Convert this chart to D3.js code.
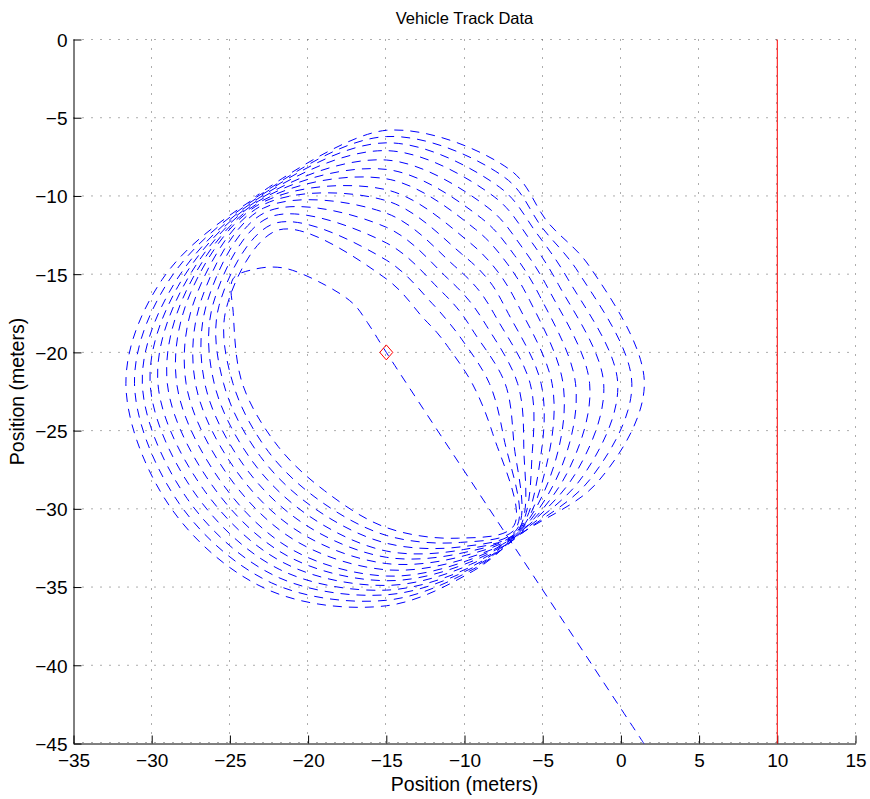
<!DOCTYPE html>
<html><head><meta charset="utf-8">
<script src="https://cdn.jsdelivr.net/npm/d3@7"></script>
<style>
body{margin:0;background:#fff}
svg{display:block}
text{font-family:"Liberation Sans",Arial,Helvetica,sans-serif;fill:#000}
</style>
</head><body>
<svg id="chart" width="870" height="799"></svg>
<script>
// ---- data ----
const xTicks = [-35,-30,-25,-20,-15,-10,-5,0,5,10,15];
const yTicks = [0,-5,-10,-15,-20,-25,-30,-35,-40,-45];
const titleText = "Vehicle Track Data";
const xLabel = "Position (meters)";
const yLabel = "Position (meters)";
// entry leg of the track
const startLeg = [[1.47,-45],[-6.77,-32.5],[-15.0,-20.0],[-16.2,-18.1],[-17.1,-16.9],
  [-18.9,-15.7],[-21.6,-14.6],[-23.5,-14.7],[-24.8,-15.3]];
// loops: radius read along fixed rays around a reference point
const loopCenter = [-15,-22];
const rayAngles = [155,180,210,240,270,295,312,335,360,390,405,420,450,485];
const loopRadii = [
  [10.8, 9.2, 8.0, 7.9, 9.2,10.9,12.2, 7.5, 5.5, 4.6, 4.6, 4.8, 6.7,12.0],
  [11.3, 9.8, 8.7, 8.6, 9.7,11.2,12.4, 8.3, 6.6, 5.6, 5.6, 5.9, 7.9,12.5],
  [11.8,10.4, 9.3, 9.2,10.2,11.5,12.5, 9.0, 7.6, 6.5, 6.6, 6.9, 9.0,13.0],
  [12.2,11.0, 9.9, 9.8,10.7,11.7,12.6, 9.7, 8.4, 7.4, 7.5, 7.8,10.0,13.4],
  [12.6,11.6,10.5,10.4,11.1,11.9,12.6,10.3, 9.2, 8.2, 8.4, 8.7,10.9,13.7],
  [13.0,12.2,11.1,11.0,11.5,12.1,12.65,10.9,9.9, 9.0, 9.3, 9.6,11.7,13.9],
  [13.4,12.8,11.7,11.6,11.9,12.3,12.7,11.4,10.6, 9.8,10.1,10.5,12.4,14.05],
  [13.8,13.4,12.3,12.2,12.3,12.45,12.7,11.9,11.3,10.6,10.9,11.4,13.1,14.15],
  [14.1,14.0,12.9,12.7,12.6,12.6,12.75,12.4,12.1,11.3,11.6,12.2,13.7,14.25],
  [14.4,14.6,13.5,13.2,12.9,12.75,12.8,12.9,13.0,12.0,12.3,13.0,14.3,14.32],
  [14.7,15.1,14.1,13.7,13.2,12.9,12.8,13.4,13.9,12.7,13.0,13.8,14.9,14.4],
  [15.0,15.6,14.7,14.2,13.5,13.0,12.85,13.9,14.8,13.4,13.6,14.5,15.4,14.47],
  [15.4,16.1,15.3,14.7,13.85,13.1,12.9,14.4,15.7,14.2,14.1,15.2,15.8,14.53],
  [15.8,16.65,15.9,15.2,14.2,13.2,12.9,14.9,16.5,15.0,14.6,15.8,16.2,14.6]
];
const markerPoint = [-15,-20];
const boundaryX = 10;

// ---- layout ----
const L = 73.5, R = 855.5, T = 39.5, B = 743.5;
const svg = d3.select("#chart");
const x = d3.scaleLinear().domain([-35,15]).range([L,R]);
const y = d3.scaleLinear().domain([-45,0]).range([B,T]);
const rPx = d3.scaleLinear().domain([0,1]).range([0, x(1)-x(0)]);

// grid
const grid = svg.append("g").attr("stroke","#5a5a5a").attr("stroke-width",1).attr("stroke-dasharray","1,8");
xTicks.filter(v=>v!==-35).forEach(v=>{
  grid.append("line").attr("x1",Math.round(x(v))-0.5).attr("x2",Math.round(x(v))-0.5).attr("y1",T).attr("y2",B);
});
yTicks.forEach(v=>{
  const yy = v===-45 ? B-1 : y(v);
  grid.append("line").attr("x1",L).attr("x2",R).attr("y1",yy).attr("y2",yy);
});

// axes
const fmt = d=>d<0?"\u2212"+Math.abs(d):d;
const xAxis = d3.axisBottom(x).tickValues(xTicks).tickSizeInner(-8).tickSizeOuter(0).tickPadding(10).tickFormat(fmt);
const yAxis = d3.axisLeft(y).tickValues(yTicks).tickSizeInner(-8).tickSizeOuter(0).tickPadding(6).tickFormat(fmt);
const gx = svg.append("g").attr("transform",`translate(0,${B})`).call(xAxis);
const gy = svg.append("g").attr("transform",`translate(${L},0)`).call(yAxis);
[gx,gy].forEach(g=>{
  g.select(".domain").attr("stroke","#000");
  g.selectAll(".tick line").attr("stroke","#000");
  g.selectAll("text").attr("font-size",19).attr("font-family","Liberation Sans, Arial, sans-serif").attr("fill","#000");
});
gx.selectAll("text").attr("dy","0.71em");
gy.selectAll("text").attr("dy","0.36em");

// boundary line
svg.append("line").attr("x1",x(boundaryX)).attr("x2",x(boundaryX)).attr("y1",y(0)).attr("y2",y(-45))
  .attr("stroke","#ff0000").attr("stroke-width",1);

// track
const cx = x(loopCenter[0]), cy = y(loopCenter[1]);
const pts = startLeg.map(p=>[x(p[0]),y(p[1])]);
loopRadii.forEach(row=>{
  row.forEach((r,i)=>{
    const a = (90 - rayAngles[i]) * Math.PI/180;
    const p = d3.pointRadial(a, rPx(r));
    pts.push([cx+p[0], cy+p[1]]);
  });
});
svg.append("path").attr("d", d3.line().curve(d3.curveCatmullRom.alpha(0.5))(pts))
  .attr("fill","none").attr("stroke","#0000ff").attr("stroke-width",1).attr("stroke-dasharray","9,7");

// marker
const mx = x(markerPoint[0]), my = y(markerPoint[1]);
svg.append("path").attr("d",`M${mx},${my-7.5}L${mx+6.5},${my}L${mx},${my+7.5}L${mx-6.5},${my}Z`)
  .attr("fill","none").attr("stroke","#ff0000").attr("stroke-width",1);

// titles
svg.append("text").attr("x",(L+R)/2).attr("y",24).attr("text-anchor","middle").attr("font-size",16.5).text(titleText);
svg.append("text").attr("x",(L+R)/2).attr("y",791).attr("text-anchor","middle").attr("font-size",19.5).text(xLabel);
svg.append("text").attr("transform",`translate(24,${(T+B)/2}) rotate(-90)`).attr("text-anchor","middle").attr("font-size",19.5).text(yLabel);
</script>
</body></html>
